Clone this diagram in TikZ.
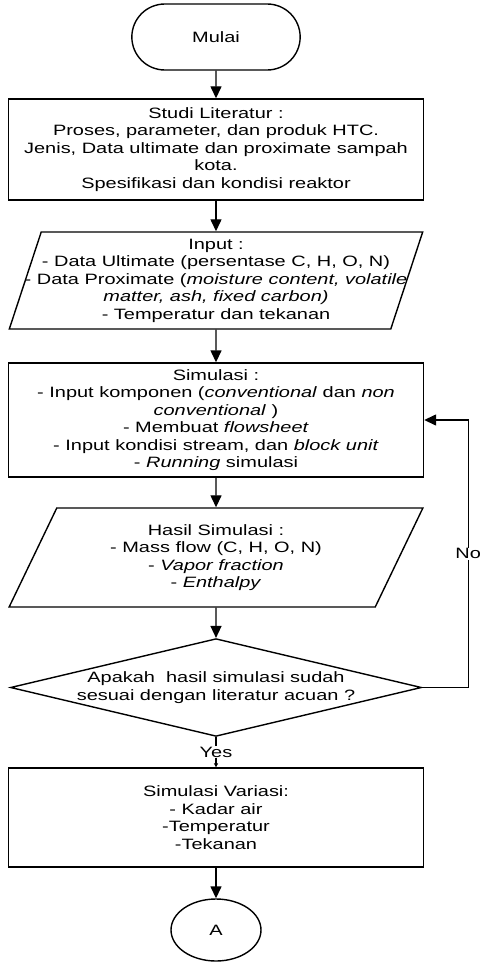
\documentclass[tikz,border=0pt]{standalone}
\usepackage{fontspec}
\setmainfont{Liberation Sans}[FakeStretch=1.33]
\usetikzlibrary{shapes.geometric, shapes.misc, positioning, arrows.meta, arrows}

\begin{document}
\begin{tikzpicture}[->,>={Triangle[length=12pt,width=11pt]},line width=1.4pt,
    every node/.style={font=\fontsize{15pt}{17.5pt}\selectfont},
    terminal/.style={draw,rounded rectangle,minimum width=175pt,minimum height=66pt},
    proses/.style={draw,rectangle,align=center,minimum width=415pt,inner sep=0pt},
    data/.style={draw,trapezium,trapezium left angle=70,trapezium right angle=110,trapezium stretches=true,align=center,minimum width=415pt,inner ysep=0pt,inner xsep=-25pt},
    decision/.style={draw,diamond,aspect=4.2,align=center,inner sep=0pt,minimum width=411pt,minimum height=97pt},
    connector/.style={draw,ellipse,minimum width=90pt,minimum height=62pt}]
    \useasboundingbox (0,0) rectangle (481pt,-963pt);

    \node[terminal] (mulai) at (216pt,-37pt) {Mulai};
    \node[proses,minimum height=101pt] (studi) [below of=mulai,node distance=112.5pt] {Studi Literatur :\\ Proses, parameter, dan produk HTC.\\ Jenis, Data ultimate dan proximate sampah\\ kota.\\ Spesifikasi dan kondisi reaktor};
    \node[data,minimum height=97pt] (input) [below of=studi,node distance=131pt] {Input :\\ - Data Ultimate (persentase C, H, O, N)\\ - Data Proximate (\textit{moisture content, volatile}\\ \textit{matter, ash, fixed carbon)}\\ - Temperatur dan tekanan};
    \node[proses,minimum height=114pt] (simulasi) [below of=input,node distance=139.5pt] {Simulasi :\\ - Input komponen (\textit{conventional} dan \textit{non}\\ \textit{conventional} )\\ - Membuat \textit{flowsheet}\\ - Input kondisi stream, dan \textit{block unit}\\ - \textit{Running} simulasi};
    \node[data,minimum height=99pt] (hasil) [below of=simulasi,node distance=137.5pt] {Hasil Simulasi :\\ - Mass flow (C, H, O, N)\\ - \textit{Vapor fraction}\\ - \textit{Enthalpy}};
    \node[decision] (cek) [below of=hasil,node distance=130pt] {Apakah\ \ hasil simulasi sudah\\ sesuai dengan literatur acuan ?};
    \node[proses,minimum height=99pt] (variasi) [below of=cek,node distance=130pt] {Simulasi Variasi:\\ - Kadar air\\ -Temperatur\\ -Tekanan};
    \node[connector] (a) [below of=variasi,node distance=112.5pt] {A};

    \path (mulai) edge (studi)
          (studi) edge (input)
          (input) edge (simulasi)
          (simulasi) edge (hasil)
          (hasil) edge (cek)
          (cek) edge[-{Triangle[length=4pt,width=4pt]}] node[fill=white,inner sep=1pt] {Yes} (variasi)
          (variasi) edge (a);

    \draw (cek.east) -| node[pos=0.75,fill=white,inner sep=1pt] {No} ([xshift=44pt]simulasi.east) -- (simulasi.east);
\end{tikzpicture}
\end{document}
